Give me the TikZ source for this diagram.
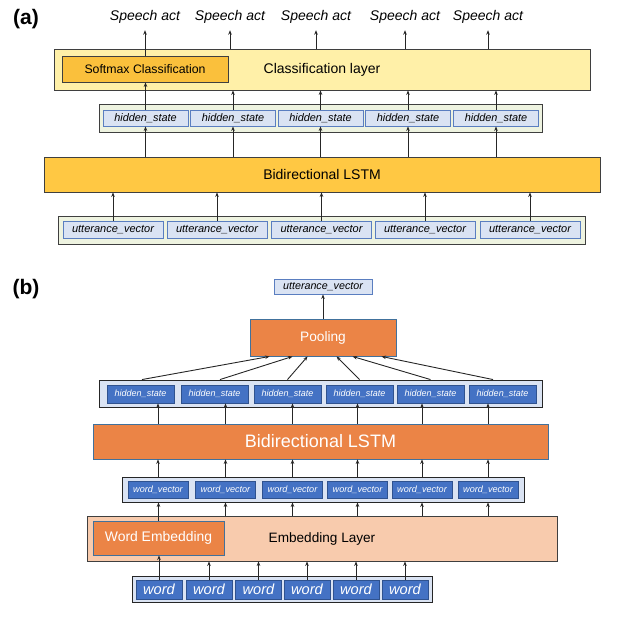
\documentclass[tikz,border=0pt]{standalone}
\usepackage{fontspec}
\setmainfont{Liberation Sans}
\usetikzlibrary{arrows.meta,calc}
\definecolor{clsfill}{HTML}{FFF0A8}
\definecolor{smfill}{HTML}{FAC03C}
\definecolor{lstmA}{HTML}{FFC843}
\definecolor{greenbg}{HTML}{EEF3E0}
\definecolor{lightblue}{HTML}{DAE3F3}
\definecolor{lbborder}{HTML}{5A7EC0}
\definecolor{darkline}{HTML}{3F3F3F}
\definecolor{orangefill}{HTML}{EB8446}
\definecolor{orangeborder}{HTML}{41719C}
\definecolor{embfill}{HTML}{F8CBAD}
\definecolor{darkblue}{HTML}{4472C4}
\definecolor{dbborder}{HTML}{2F528F}
\begin{document}
\begin{tikzpicture}[x=1pt,y=-1pt,
  fs/.style={font=\fontsize{#1}{#1}\selectfont},
  box/.style={rectangle, draw, inner sep=0pt, line width=0.9pt},
  contA/.style={box, draw=darkline, fill=greenbg},
  contB/.style={box, draw=black!85, fill=lightblue},
  lbox/.style={box, draw=lbborder, fill=lightblue, text=black},
  dbox/.style={box, draw=dbborder, fill=darkblue, text=white},
  obox/.style={box, draw=orangeborder, fill=orangefill, text=white},
  arr/.style={-{Stealth[length=4.5pt,width=3.6pt]}, line width=0.9pt, draw=black!85},
  lab/.style={font=\fontsize{21}{21}\selectfont\bfseries, inner sep=0pt}
]
\useasboundingbox (0,0) rectangle (644,619);

% ================= (a) =================
\node[lab] (la) at (26,19) {(a)};

\node[box, draw=darkline, fill=clsfill, minimum width=536pt, minimum height=41pt, fs=14] (cls) at (322,69.5) {Classification layer};
\node[box, draw=darkline, fill=smfill, minimum width=166pt, minimum height=26pt, fs=12.3] (sm) at (145,69) {Softmax Classification};

\foreach \x [count=\i] in {145,230,316,405,488}
  \node[fs=14, inner sep=1pt] (sa\i) at (\x,16.5) {\itshape Speech act};

\node[contA, minimum width=443pt, minimum height=28pt] (hca) at (320.5,118) {};
\foreach \x [count=\i] in {145.5,233,320.5,408,496}
  \node[lbox, minimum width=85pt, minimum height=16pt, fs=10.9] (ha\i) at (\x,118) {\itshape hidden\_state};

\node[box, draw=darkline, fill=lstmA, minimum width=556pt, minimum height=35pt, fs=14] (bla) at (322,174.5) {Bidirectional LSTM};

\node[contA, minimum width=527pt, minimum height=28pt] (uca) at (321.5,230) {};
\foreach \x [count=\i] in {113,217,321.5,425,530}
  \node[lbox, minimum width=100pt, minimum height=17pt, fs=11] (ua\i) at (\x,229.5) {\itshape utterance\_vector};

% arrows (a)
\draw[arr, shorten >=6pt] (sm.north -| sa1) -- (sa1.south);
\foreach \i in {2,...,5}
  \draw[arr, shorten >=6pt] (cls.north -| sa\i) -- (sa\i.south);
\draw[arr] (ha1.north) -- (sm.south -| ha1);
\foreach \i in {2,...,5}
  \draw[arr] (ha\i.north) -- (cls.south -| ha\i);
\foreach \i in {1,...,5}
  \draw[arr] (bla.north -| ha\i) -- (ha\i.south);
\foreach \i in {1,...,5}
  \draw[arr] (ua\i.north) -- (bla.south -| ua\i);

% ================= (b) =================
\node[lab] (lb) at (26,289) {(b)};

\node[lbox, minimum width=98pt, minimum height=15pt, fs=10.7] (utb) at (323,286.5) {\itshape utterance\_vector};
\node[obox, minimum width=146pt, minimum height=37pt, fs=13.7] (pool) at (323,337.5) {Pooling};

\node[contB, minimum width=443pt, minimum height=27pt] (hcb) at (320.5,393.5) {};
\foreach \x [count=\i] in {140.5,214.5,287.5,359.5,430.5,502.5}
  \node[dbox, minimum width=67pt, minimum height=18pt, fs=9] (hb\i) at (\x,394) {\itshape hidden\_state};

\node[obox, minimum width=455pt, minimum height=35pt, fs=18] (blb) at (320.5,441.5) {Bidirectional LSTM};

\node[contB, minimum width=402pt, minimum height=25pt] (wvc) at (323,489.5) {};
\foreach \x [count=\i] in {158,225.5,292.5,357.5,422,488}
  \node[dbox, minimum width=60pt, minimum height=17pt, fs=9.1] (wv\i) at (\x,489.5) {\itshape word\_vector};

\node[box, draw=darkline, fill=embfill, minimum width=470pt, minimum height=45pt, fs=13.6] (emb) at (322,538.5) {Embedding Layer};
\node[obox, minimum width=131pt, minimum height=34pt, fs=13.9] (we) at (158.5,538) {Word Embedding};

\node[contB, minimum width=300pt, minimum height=26pt] (wdc) at (282,589) {};
\foreach \x [count=\i] in {159,209,258.5,307,356,405}
  \node[dbox, minimum width=46pt, minimum height=19pt, fs=14.6] (wd\i) at (\x,589.5) {\itshape word};

% arrows (b)
\draw[arr] (pool.north) -- (utb.south);
\foreach \i/\s/\d in {1/1.5/20, 2/5.5/43, 3/0/58, 4/0/87, 5/0/103, 6/-9.5/132}
  \draw[arr] ($(hcb.north -| hb\i)+(\s,0)$) -- ($(pool.south west)+(\d,0)$);
\foreach \i in {1,...,6}
  \draw[arr] (blb.north -| wv\i) -- (wv\i |- hb\i.south);
\foreach \i in {1,...,6}
  \draw[arr] (wvc.north -| wv\i) -- (blb.south -| wv\i);
\draw[arr] (we.north) -- (wvc.south -| we);
\foreach \i in {2,...,6}
  \draw[arr] (emb.north -| wv\i) -- (wvc.south -| wv\i);
\draw[arr] (wd1.north) -- (we.south -| wd1);
\foreach \i in {2,...,6}
  \draw[arr] (wd\i.north) -- (emb.south -| wd\i);
\end{tikzpicture}
\end{document}
